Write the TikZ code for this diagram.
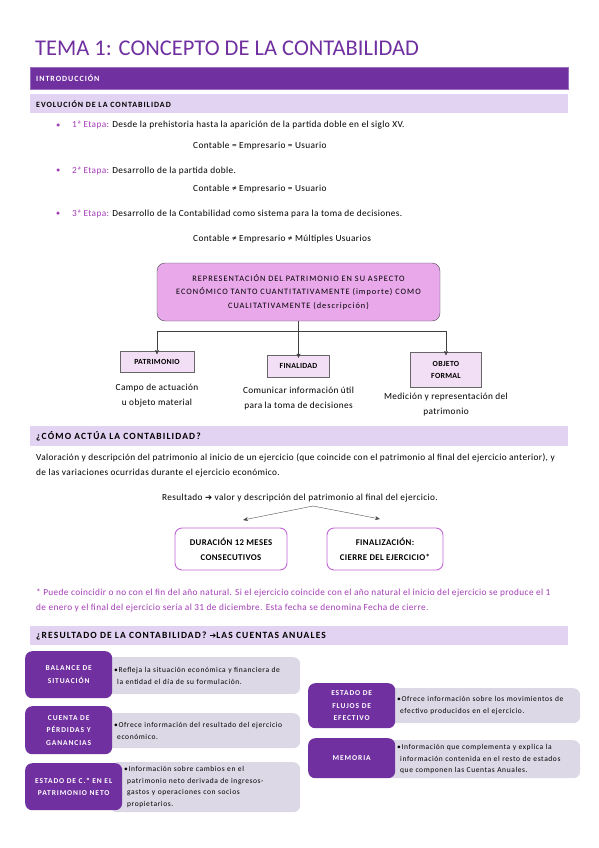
\documentclass[tikz,border=0pt]{standalone}
\usepackage{fontspec}
\setmainfont{Carlito}[LetterSpace=4]
\newfontfamily\plainfont{Carlito}
\newfontfamily\symfont{DejaVu Sans}
\newfontfamily\spacedfont[LetterSpace=12]{Carlito}
\newfontfamily\cajafont[LetterSpace=8]{Carlito}
\usetikzlibrary{arrows.meta,positioning}

\definecolor{moradoosc}{HTML}{7030A0}
\definecolor{moradoclaro}{HTML}{E1D3F1}
\definecolor{lila}{HTML}{A23BB5}
\definecolor{rosa}{HTML}{E8A8EA}
\definecolor{rosaclaro}{HTML}{F3DFF5}
\definecolor{grislila}{HTML}{DDD8E5}
\definecolor{borde}{HTML}{C466D8}

\begin{document}
\begin{tikzpicture}[x=1pt,y=-1pt,
    barra/.style={anchor=north west,minimum width=538pt,inner xsep=6pt,inner ysep=0pt,
        text width=526pt,align=left,font=\spacedfont\bfseries\fontsize{8}{8.5}\selectfont},
    barragrande/.style={barra,font=\spacedfont\bfseries\fontsize{9.5}{10}\selectfont},
    txt/.style={anchor=base west,inner sep=0pt,font=\fontsize{9.3}{11}\selectfont},
    cajarosa/.style={draw=gray!80!black,fill=rosaclaro,inner sep=2pt,align=center,
        font=\bfseries\fontsize{7.8}{12}\selectfont},
    nota/.style={align=center,inner sep=0pt,font=\fontsize{9.3}{15}\selectfont},
    cajaborde/.style={draw=borde,line width=0.9pt,rounded corners=7pt,fill=white,align=center,
        font=\bfseries\fontsize{8.8}{15}\selectfont},
    etiqueta/.style={rounded corners=7pt,fill=moradoosc,text=white,anchor=north west,align=center,
        inner sep=0pt,font=\spacedfont\bfseries\fontsize{7.5}{12.5}\selectfont},
    caja/.style={rounded corners=7pt,fill=grislila,anchor=north west,align=left,inner xsep=14pt,
        inner ysep=0pt,font=\cajafont\fontsize{7.5}{11.5}\selectfont},
    flecha/.style={-{Triangle[length=4pt,width=4pt]},draw=black!75}]

\useasboundingbox (0,0) rectangle (599,848);

% titulo y cabeceras
\node[anchor=base west,inner sep=0pt,text=moradoosc,font=\plainfont\fontsize{22.5}{24}\selectfont]
    (titulo) at (35,56) {TEMA 1: CONCEPTO DE LA CONTABILIDAD};
\node[barra,fill=moradoosc,draw=moradoosc!70,text=white,minimum height=22pt] (intro) at (30,67) {INTRODUCCIÓN};
\node[barra,fill=moradoclaro,minimum height=19pt] (evol) at (30,94) {EVOLUCIÓN DE LA CONTABILIDAD};

% etapas
\foreach \n/\y/\yc/\texto/\formula in {
    1/128/148/{Desde la prehistoria hasta la aparición de la partida doble en el siglo XV.}/{Contable = Empresario = Usuario},
    2/173/191/{Desarrollo de la partida doble.}/{Contable ≠ Empresario = Usuario},
    3/216/241/{Desarrollo de la Contabilidad como sistema para la toma de decisiones.}/{Contable ≠ Empresario ≠ Múltiples Usuarios}} {
    \node[circle,fill=lila,inner sep=0pt,minimum size=3.5pt] (punto\n) at (58,\y-3) {};
    \node[txt] (etapa\n) at (72,\y) {\textcolor{lila}{\n ª Etapa:} \texto};
    \node[txt] (formula\n) at (193,\yc) {\formula};
}

% representacion del patrimonio
\node[draw=black!70,fill=rosa,rounded corners=8pt,minimum width=283pt,minimum height=58pt,align=center,
    font=\spacedfont\fontsize{8.3}{13.5}\selectfont] (repr) at (298.5,292)
    {REPRESENTACIÓN DEL PATRIMONIO EN SU ASPECTO\\ECONÓMICO TANTO CUANTITATIVAMENTE (importe) COMO\\CUALITATIVAMENTE (descripción)};

\node[cajarosa,minimum width=74pt,minimum height=21pt] (patr) at (157,362) {PATRIMONIO};
\node[cajarosa,minimum width=62pt,minimum height=22pt] (final) at (298.5,366) {FINALIDAD};
\node[cajarosa,minimum width=71pt,minimum height=35pt] (objeto) at (446,370) {OBJETO\\FORMAL};

\node[nota,below=11pt of patr] (patrtxt) {Campo de actuación\\u objeto material};
\node[nota,below=10pt of final] (finaltxt) {Comunicar información útil\\para la toma de decisiones};
\node[nota,below=5pt of objeto] (objetotxt) {Medición y representación del\\patrimonio};

\draw[flecha] (repr.south) -- ++(0,10) -| ([yshift=-3pt]patr.north);
\draw[flecha] (repr.south) -- ([yshift=-3pt]final.north);
\draw[flecha] (repr.south) -- ++(0,10) -| ([yshift=-3pt]objeto.north);

% como actua
\node[barragrande,fill=moradoclaro,minimum height=20pt] (como) at (30,426) {¿CÓMO ACTÚA LA CONTABILIDAD?};
\node[txt] (valor1) at (36,460) {Valoración y descripción del patrimonio al inicio de un ejercicio (que coincide con el patrimonio al final del ejercicio anterior), y};
\node[txt] (valor2) at (36,475) {de las variaciones ocurridas durante el ejercicio económico.};
\node[txt,anchor=base] (result) at (300,500) {Resultado {\symfont\bfseries\fontsize{8.5}{9}\selectfont ➔} valor y descripción del patrimonio al final del ejercicio.};

\node[cajaborde,minimum width=112pt,minimum height=42pt] (durac) at (231,549) {DURACIÓN 12 MESES\\CONSECUTIVOS};
\node[cajaborde,minimum width=116pt,minimum height=42pt] (fin) at (385,549) {FINALIZACIÓN:\\CIERRE DEL EJERCICIO*};

\coordinate (ramares) at (313,506);
\coordinate (puntadur) at (243,520);
\coordinate (puntafin) at (380,519);
\draw[-{Stealth[length=5pt,width=4pt]},black!70] (ramares) -- (puntadur);
\draw[-{Stealth[length=5pt,width=4pt]},black!70] (ramares) -- (puntafin);

\node[txt,text=lila] (nota1) at (36,595) {* Puede coincidir o no con el fin del año natural. Si el ejercicio coincide con el año natural el inicio del ejercicio se produce el 1};
\node[txt,text=lila] (nota2) at (36,610) {de enero y el final del ejercicio sería al 31 de diciembre. Esta fecha se denomina Fecha de cierre.};

% cuentas anuales
\node[barragrande,fill=moradoclaro,minimum height=19pt] (resul) at (30,626) {¿RESULTADO DE LA CONTABILIDAD? {\symfont\fontsize{8}{9}\selectfont ➔}LAS CUENTAS ANUALES};

\node[caja,text width=172pt,minimum height=37pt] (balancetxt) at (100,657)
    {•Refleja la situación económica y financiera de\\\hspace*{3pt}la entidad el día de su formulación.};
\node[etiqueta,minimum width=87pt,minimum height=47pt] (balance) at (25,651) {BALANCE DE\\SITUACIÓN};

\node[caja,text width=172pt,minimum height=35pt] (cuentatxt) at (100,713)
    {•Ofrece información del resultado del ejercicio\\\hspace*{3pt}económico.};
\node[etiqueta,minimum width=87pt,minimum height=48pt] (cuenta) at (25,706) {CUENTA DE\\PÉRDIDAS Y\\GANANCIAS};

\node[caja,text width=162pt,minimum height=50pt] (estadotxt) at (110,762)
    {•Información sobre cambios en el\\\hspace*{3pt}patrimonio neto derivada de ingresos-\\\hspace*{3pt}gastos y operaciones con socios\\\hspace*{3pt}propietarios.};
\node[etiqueta,minimum width=97pt,minimum height=47pt] (estado) at (25,763) {ESTADO DE C.º EN EL\\PATRIMONIO NETO};

\node[caja,text width=169pt,minimum height=35pt] (flujostxt) at (383,688)
    {•Ofrece información sobre los movimientos de\\\hspace*{3pt}efectivo producidos en el ejercicio.};
\node[etiqueta,minimum width=87pt,minimum height=45pt] (flujos) at (308,683) {ESTADO DE\\FLUJOS DE\\EFECTIVO};

\node[caja,text width=169pt,minimum height=38pt] (memoriatxt) at (383,740)
    {•Información que complementa y explica la\\\hspace*{3pt}información contenida en el resto de estados\\\hspace*{3pt}que componen las Cuentas Anuales.};
\node[etiqueta,minimum width=87pt,minimum height=40pt] (memoria) at (308,738) {MEMORIA};

\end{tikzpicture}
\end{document}
